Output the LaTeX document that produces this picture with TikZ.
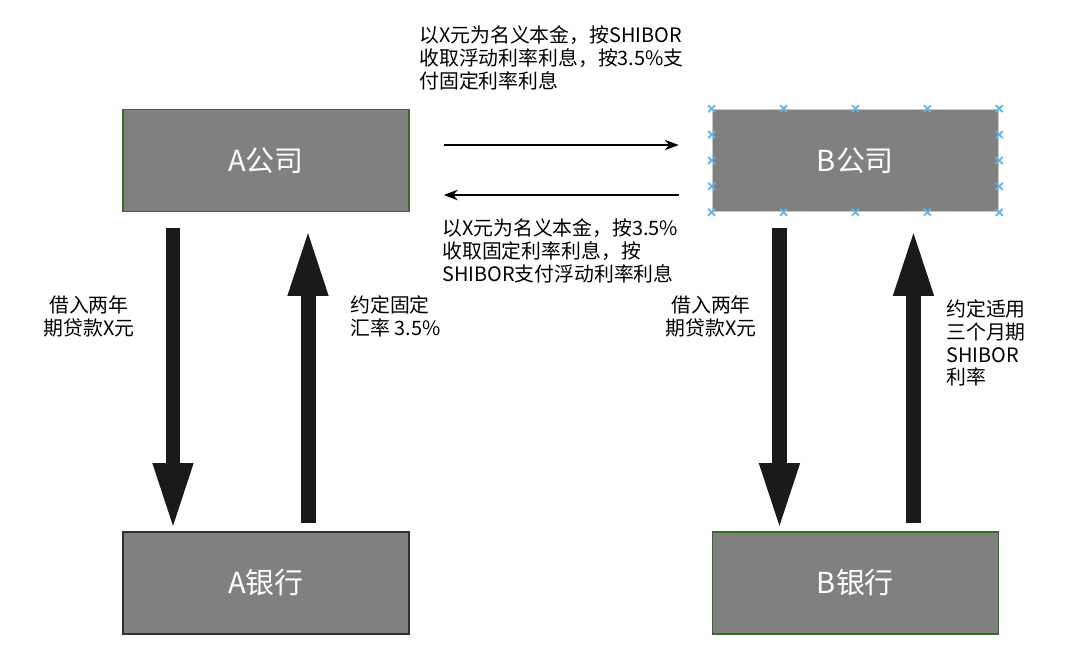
\documentclass[tikz,border=0pt]{standalone}
\usepackage{fontspec}
\setmainfont{Noto Sans CJK SC}
\usetikzlibrary{arrows.meta,positioning,calc}
\definecolor{boxgray}{RGB}{128,128,128}
\definecolor{leafgreen}{RGB}{52,110,32}
\definecolor{edgegray}{RGB}{200,200,200}
\definecolor{handleblue}{RGB}{94,180,235}
\definecolor{inkblack}{RGB}{26,26,26}

\begin{document}
\begin{tikzpicture}[x=0.02cm, y=0.02cm,
  every node/.style={font=\fontsize{11.3}{13}\selectfont},
  party/.style={draw=leafgreen, fill=boxgray, line width=0.9pt, minimum width=5.72cm, minimum height=2.04cm, text=white, font=\fontsize{16.5}{19}\selectfont},
  flow/.style={-{Stealth[length=8pt,width=6pt]}, line width=0.8pt},
  bigflow/.style={-{Triangle[width=0.72cm,length=1.36cm]}, line width=0.3cm, draw=inkblack, fill=inkblack},
  note/.style={align=left, inner sep=0pt},
  handle/.style={handleblue, line width=1pt}
]
\useasboundingbox (0,0) rectangle (1080,647);

\node[party] (acomp) at (266,486.5) {A公司};
\node[party, draw=edgegray, right=6.04cm of acomp] (bcomp) {B公司};
\node[party, draw=inkblack!90, below=6.38cm of acomp] (abank) {A银行};
\node[party, below=6.38cm of bcomp] (bbank) {B银行};

% selection handles round B
\foreach \t in {0,0.25,0.5,0.75,1} {
  \draw[handle] ($(bcomp.north west)!\t!(bcomp.north east)$) +(-3.5,-3.5) -- +(3.5,3.5) +(-3.5,3.5) -- +(3.5,-3.5);
  \draw[handle] ($(bcomp.south west)!\t!(bcomp.south east)$) +(-3.5,-3.5) -- +(3.5,3.5) +(-3.5,3.5) -- +(3.5,-3.5);
}
\foreach \t in {0.25,0.5,0.75} {
  \draw[handle] ($(bcomp.north west)!\t!(bcomp.south west)$) +(-3.5,-3.5) -- +(3.5,3.5) +(-3.5,3.5) -- +(3.5,-3.5);
  \draw[handle] ($(bcomp.north east)!\t!(bcomp.south east)$) +(-3.5,-3.5) -- +(3.5,3.5) +(-3.5,3.5) -- +(3.5,-3.5);
}

% swap legs
\draw[flow] ($(acomp.east)+(34,15.5)$) -- ($(bcomp.west)+(-33,15.5)$);
\draw[flow] ($(bcomp.west)+(-33,-34.5)$) -- ($(acomp.east)+(34,-34.5)$);
\node[note, anchor=west] (payfix) at (419,589) {以X元为名义本金，按SHIBOR\\收取浮动利率利息，按3.5\%支\\付固定利率利息};
\node[note, anchor=west] (payfloat) at (442,396) {以X元为名义本金，按3.5\%\\收取固定利率利息，按\\SHIBOR支付浮动利率利息};

% loans
\draw[bigflow] ($(acomp.south)+(-93,-15.5)$) -- ($(abank.north)+(-93,0)$);
\draw[bigflow] ($(abank.north)+(42,8)$) -- ($(acomp.south)+(42,-15.5)$);
\draw[bigflow] ($(bcomp.south)+(-76,-15.5)$) -- ($(bbank.north)+(-76,0)$);
\draw[bigflow] ($(bbank.north)+(58,8)$) -- ($(bcomp.south)+(58,-15.5)$);

\node[align=center] (aloan) at (89,330.5) {借入两年\\期贷款X元};
\node[note, anchor=west] (arate) at (350,330.5) {约定固定\\汇率 3.5\%};
\node[align=center] (bloan) at (711,330.5) {借入两年\\期贷款X元};
\node[note, anchor=west] (brate) at (946,304) {约定适用\\三个月期\\SHIBOR\\利率};
\end{tikzpicture}
\end{document}
